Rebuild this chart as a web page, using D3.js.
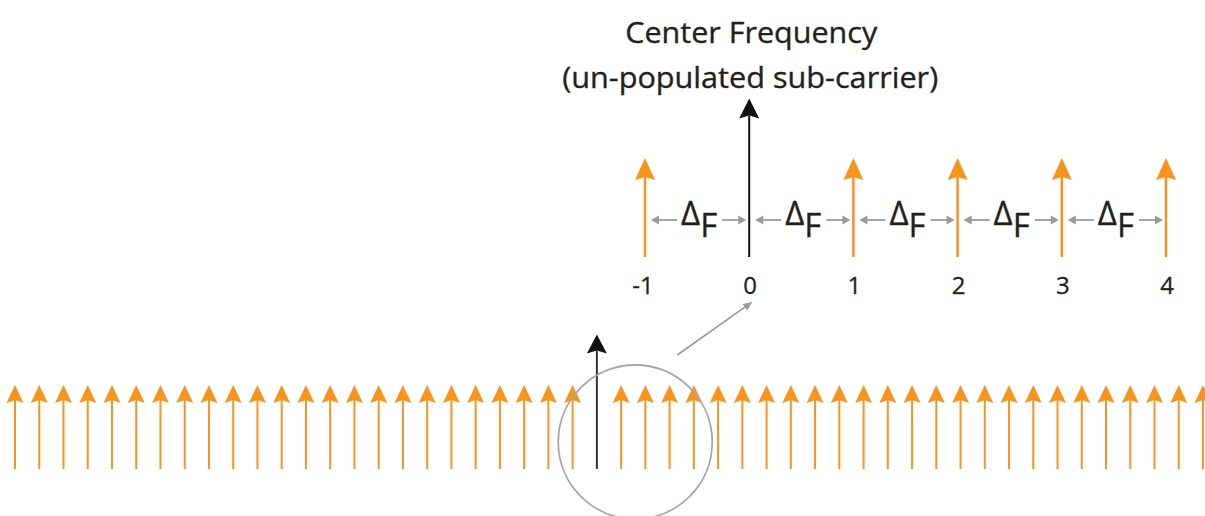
<!DOCTYPE html>
<html>
<head>
<meta charset="utf-8">
<script src="https://cdn.jsdelivr.net/npm/d3@7"></script>
<style>
  html, body { margin: 0; padding: 0; background: #fff; }
  svg { display: block; }
</style>
</head>
<body>
<svg id="chart" width="1205" height="516"></svg>
<script>
// ---- data ----
const titleLines = ["Center Frequency", "(un-populated sub-carrier)"];
const topCarriers = [-1, 0, 1, 2, 3, 4];
const topLabels = ["-1", "0", "1", "2", "3", "4"];
const spacingLabel = ["\u0394", "F"];
const bottomCarriers = [-24, -23, -22, -21, -20, -19, -18, -17, -16, -15, -14, -13, -12, -11, -10, -9, -8, -7, -6, -5, -4, -3, -2, -1,
  0, 1, 2, 3, 4, 5, 6, 7, 8, 9, 10, 11, 12, 13, 14, 15, 16, 17, 18, 19, 20, 21, 22, 23, 24, 25];
const centerCarrier = 0;
const populatedAmplitude = 1;
const centerAmplitude = 1.6;

// ---- styles ----
const ORANGE = "#f7941e";
const GRAY = "#9a9a9a";
const INK = "#231f20";
const FONT = "'Open Sans', 'Noto Sans', sans-serif";

const svg = d3.select("#chart");
svg.append("rect").attr("width", 1205).attr("height", 516).attr("fill", "#fff");

// ---- scales ----
const xTop = d3.scaleLinear().domain([-1, 4]).range([645, 1166]);
const yTop = d3.scaleLinear().domain([0, 1]).range([257, 158]);
const xBot = d3.scaleLinear().domain([-24, 25]).range([15, 1203]);
const yBot = d3.scaleLinear().domain([0, 1]).range([469, 385]);

const amp = c => c === centerCarrier ? centerAmplitude : populatedAmplitude;

function headPath(x, tip, hl, hw, notch) {
  return `M${x},${tip} L${x + hw},${tip + hl} L${x},${tip + hl - notch} L${x - hw},${tip + hl} Z`;
}

function drawArrows(g, data, x, y, opts) {
  const grp = g.selectAll(null).data(data).enter().append("g");
  grp.append("line")
    .attr("x1", d => x(d)).attr("x2", d => x(d))
    .attr("y1", y(0))
    .attr("y2", d => y(amp(d)) + opts(d).hl - 3)
    .attr("stroke", d => opts(d).line)
    .attr("stroke-width", d => opts(d).lw);
  grp.append("path")
    .attr("d", d => headPath(x(d), y(amp(d)), opts(d).hl, opts(d).hw, 3))
    .attr("fill", d => opts(d).head);
}

// ---- title ----
svg.append("text").text(titleLines[0])
  .attr("x", xTop(0) + 2).attr("y", 43)
  .attr("text-anchor", "middle")
  .attr("font-family", FONT).attr("font-size", 30).attr("fill", INK)
  .attr("stroke", INK).attr("stroke-width", 0.35)
  .attr("textLength", 252).attr("lengthAdjust", "spacingAndGlyphs");
svg.append("text").text(titleLines[1])
  .attr("x", xTop(0) + 1).attr("y", 88)
  .attr("text-anchor", "middle")
  .attr("font-family", FONT).attr("font-size", 30).attr("fill", INK)
  .attr("stroke", INK).attr("stroke-width", 0.35)
  .attr("textLength", 376).attr("lengthAdjust", "spacingAndGlyphs");

// ---- top (zoomed) row ----
const topG = svg.append("g");
drawArrows(topG, topCarriers, xTop, yTop, d => d === centerCarrier
  ? { line: "#111", head: "#111", lw: 2, hl: 20, hw: 10 }
  : { line: ORANGE, head: ORANGE, lw: 2.5, hl: 22, hw: 10 });

// spacing annotations between neighbours
const pairs = d3.pairs(topCarriers);
const yDelta = 220;
pairs.forEach(([a, b]) => {
  const xa = xTop(a), xb = xTop(b);
  const g = topG.append("g");
  // left gray arrow
  g.append("line").attr("x1", xa + 12).attr("x2", xa + 32)
    .attr("y1", yDelta).attr("y2", yDelta).attr("stroke", GRAY).attr("stroke-width", 1.8);
  g.append("path").attr("d", `M${xa + 6},${yDelta} L${xa + 14},${yDelta - 4.5} L${xa + 14},${yDelta + 4.5} Z`).attr("fill", GRAY);
  // right gray arrow
  g.append("line").attr("x1", xb - 27).attr("x2", xb - 9)
    .attr("y1", yDelta).attr("y2", yDelta).attr("stroke", GRAY).attr("stroke-width", 1.8);
  g.append("path").attr("d", `M${xb - 3},${yDelta} L${xb - 11},${yDelta - 4.5} L${xb - 11},${yDelta + 4.5} Z`).attr("fill", GRAY);
  // Δ_F label
  const t = g.append("text")
    .attr("x", xa + 36).attr("y", 225)
    .attr("font-family", FONT).attr("font-size", 33).attr("fill", INK)
    .attr("stroke", INK).attr("stroke-width", 0.3);
  t.append("tspan").text(spacingLabel[0]);
  t.append("tspan").text(spacingLabel[1]).attr("dy", 12);
});

// index labels
topG.selectAll(null).data(topCarriers).enter().append("text")
  .attr("x", (d, i) => xTop(d) + (topLabels[i].length > 1 ? -2 : 1))
  .attr("y", 294)
  .attr("text-anchor", "middle")
  .attr("font-family", FONT).attr("font-size", 24).attr("fill", INK)
  .attr("stroke", INK).attr("stroke-width", 0.3)
  .text((d, i) => topLabels[i]);

// ---- bottom (full spectrum) row ----
const botG = svg.append("g");
drawArrows(botG, bottomCarriers, xBot, yBot, d => d === centerCarrier
  ? { line: "#333", head: "#111", lw: 2, hl: 19, hw: 10 }
  : { line: ORANGE, head: ORANGE, lw: 2, hl: 18, hw: 8.5 });

// highlight circle around the center carrier
const cx = xBot(1.5) + 2, cy = 442, r = 77;
svg.append("circle").attr("cx", cx).attr("cy", cy).attr("r", r)
  .attr("fill", "none").attr("stroke", "#a6a6a6").attr("stroke-width", 1.8);

// pointer from circle to zoomed center label
const px0 = cx + 42, py0 = 355, px1 = xTop(0) + 3, py1 = 302;
const ang = Math.atan2(py1 - py0, px1 - px0);
const hx = px1 - 9 * Math.cos(ang), hy = py1 - 9 * Math.sin(ang);
svg.append("line").attr("x1", px0).attr("y1", py0).attr("x2", hx).attr("y2", hy)
  .attr("stroke", GRAY).attr("stroke-width", 1.6);
svg.append("path")
  .attr("d", `M${px1},${py1} L${hx + 4 * Math.sin(ang)},${hy - 4 * Math.cos(ang)} L${hx - 4 * Math.sin(ang)},${hy + 4 * Math.cos(ang)} Z`)
  .attr("fill", GRAY);
</script>
</body>
</html>
